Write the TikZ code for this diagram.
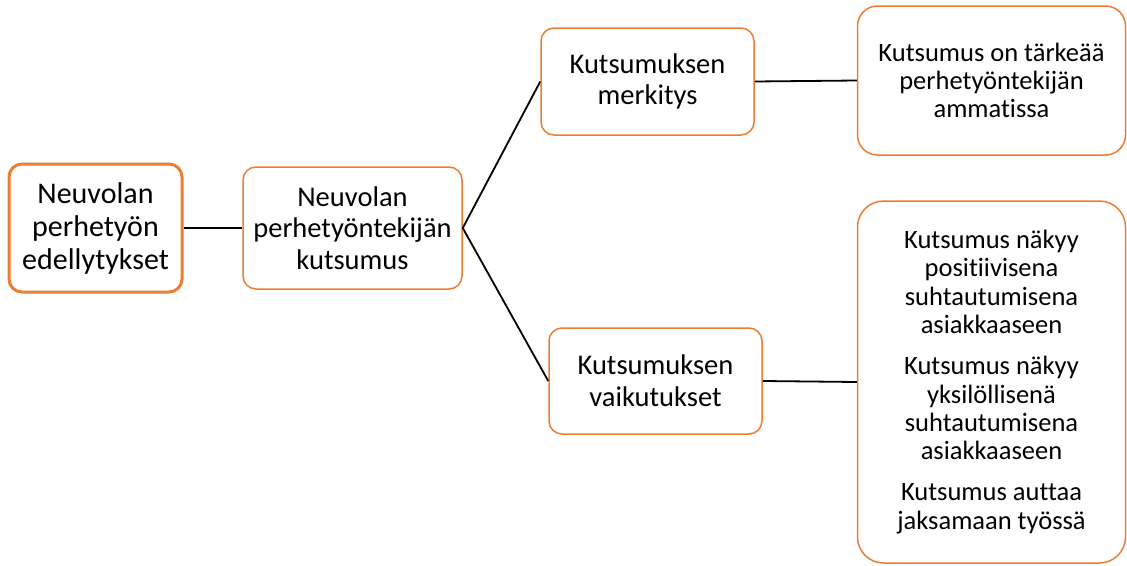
\documentclass[tikz,border=0pt]{standalone}
\usepackage{fontspec}
\setmainfont[Ligatures={NoCommon}]{Carlito}
\definecolor{boxorange}{HTML}{ED7D31}
\begin{document}
\begin{tikzpicture}[x=1pt,y=-1pt,
  box/.style={draw=boxorange, line width=1.5pt, fill=white, rounded corners=13pt,
    align=center, inner sep=0pt, anchor=center},
  rootbox/.style={box, line width=3pt},
  link/.style={draw=black, line width=1.8pt},
  bigtext/.style={font=\fontsize{30}{33}\selectfont},
  midtext/.style={font=\fontsize{28.5}{31.7}\selectfont},
  smalltext/.style={font=\fontsize{26.5}{28.3}\selectfont}]
\useasboundingbox (0,0) rectangle (1127,565);

% main chain
\node[rootbox, bigtext, minimum width=173pt, minimum height=128pt] (root) at (95.5,228)
  {Neuvolan\\perhetyön\\edellytykset};
\node[box, midtext, minimum width=219pt, minimum height=122pt] (calling) at (352.5,228)
  {Neuvolan\\perhetyöntekijän\\kutsumus};

% two branches
\node[box, midtext, minimum width=213pt, minimum height=107pt] (meaning) at (647.5,81.5)
  {Kutsumuksen\\merkitys};
\node[box, midtext, minimum width=213pt, minimum height=106pt] (effects) at (655.5,381)
  {Kutsumuksen\\vaikutukset};

% leaves
\node[box, smalltext, rounded corners=20pt, minimum width=268pt, minimum height=149pt] (important) at (991.5,80.5)
  {Kutsumus on tärkeää\\perhetyöntekijän\\ammatissa};
\node[box, smalltext, rounded corners=26pt, minimum width=268pt, minimum height=362pt] (shows) at (991.5,382)
  {Kutsumus näkyy\\positiivisena\\suhtautumisena\\asiakkaaseen\\[13pt]
   Kutsumus näkyy\\yksilöllisenä\\suhtautumisena\\asiakkaaseen\\[13pt]
   Kutsumus auttaa\\jaksamaan työssä};

% connectors
\draw[link] (root.east) -- (calling.west);
\draw[link] (calling.east) -- (meaning.west);
\draw[link] (calling.east) -- (effects.west);
\draw[link] (meaning.east) -- (important.west);
\draw[link] (effects.east) -- (shows.west);
\end{tikzpicture}
\end{document}
